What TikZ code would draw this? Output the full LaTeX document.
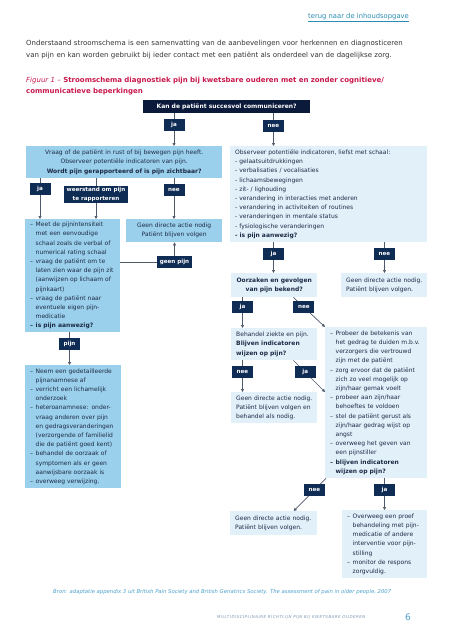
\documentclass[tikz,border=0pt]{standalone}
\usepackage{fontspec}
\setmainfont{DejaVu Sans}
\usetikzlibrary{arrows.meta,backgrounds,calc}

\definecolor{midblue}{HTML}{9BD0EC}
\definecolor{liteblue}{HTML}{E2F0FA}
\definecolor{navy}{HTML}{0F2C55}
\definecolor{qnavy}{HTML}{0B1A3B}
\definecolor{boxtext}{HTML}{1C2B45}
\definecolor{linegray}{HTML}{4E5A6A}
\definecolor{linkblue}{HTML}{2A8BB3}
\definecolor{capred}{HTML}{C8174C}
\definecolor{srcblue}{HTML}{4A9FCC}
\definecolor{footgray}{HTML}{7C97B0}
\definecolor{partext}{HTML}{333333}

\newcommand\dl[1]{\mbox{\makebox[5.5pt][l]{–}#1}}
\newcommand\il[1]{\mbox{\hspace*{5.5pt}#1}}

\tikzset{
  mid/.style={fill=midblue, text=boxtext, anchor=north west, inner xsep=5pt, inner ysep=2pt,
    font=\fontsize{6}{9.2}\selectfont},
  lite/.style={mid, fill=liteblue},
  lbl/.style={fill=navy, text=white, font=\fontsize{5.6}{9}\selectfont\bfseries,
    inner xsep=3pt, inner ysep=0pt, minimum height=12pt, minimum width=21pt},
  arr/.style={draw=linegray, line width=.7pt, -{Triangle[length=3pt,width=3pt]}},
}

\begin{document}
\begin{tikzpicture}[x=1pt,y=-1pt]
\useasboundingbox (0,0) rectangle (453,640);

% page text
\node[anchor=base west, inner sep=0, text=linkblue, font=\fontsize{6.8}{8}\selectfont] (link) at (308,18) {\underline{terug naar de inhoudsopgave}};
\node[anchor=base west, inner sep=0, text width=420pt, align=left, text=partext, font=\fontsize{7}{12}\selectfont] (intro) at (26,45)
 {Onderstaand stroomschema is een samenvatting van de aanbevelingen voor herkennen en diagnosticeren\\
  van pijn en kan worden gebruikt bij ieder contact met een patiënt als onderdeel van de dagelijkse zorg.};
\node[anchor=base west, inner sep=0, text width=420pt, align=left, text=capred, font=\fontsize{7}{11.5}\selectfont] (cap) at (26,82)
 {{\itshape Figuur 1 –} \textbf{Stroomschema diagnostiek pijn bij kwetsbare ouderen met en zonder cognitieve/}\\
  \textbf{communicatieve beperkingen}};

% boxes
\node[mid, fill=qnavy, text=white, font=\fontsize{6}{8}\selectfont\bfseries, inner sep=0pt, minimum width=167pt, minimum height=13pt] (Q) at (143,100) {Kan de patiënt succesvol communiceren?};

\node[mid, text width=186pt, minimum height=32pt, align=center] (A) at (26,146)
 {Vraag of de patiënt in rust of bij bewegen pijn heeft.\\
  Observeer potentiële indicatoren van pijn.\\
  \textbf{Wordt pijn gerapporteerd of is pijn zichtbaar?}};

\node[lite, text width=187pt, minimum height=96pt, align=left] (B) at (230,146)
 {Observeer potentiële indicatoren, liefst met schaal:\\
  - gelaatsuitdrukkingen\\
  - verbalisaties / vocalisaties\\
  - lichaamsbewegingen\\
  - zit- / lighouding\\
  - verandering in interacties met anderen\\
  - verandering in activiteiten of routines\\
  - veranderingen in mentale status\\
  - fysiologische veranderingen\\
  \textbf{- is pijn aanwezig?}};

\node[mid, text width=85pt, minimum height=113pt, align=left] (M) at (25,219)
 {\dl{Meet de pijnintensiteit}\\
  \il{met een eenvoudige}\\
  \il{schaal zoals de verbal of}\\
  \il{numerical rating schaal}\\
  \dl{vraag de patiënt om te}\\
  \il{laten zien waar de pijn zit}\\
  \il{(aanwijzen op lichaam of}\\
  \il{pijnkaart)}\\
  \dl{vraag de patiënt naar}\\
  \il{eventuele eigen pijn-}\\
  \il{medicatie}\\
  \textbf{\dl{is pijn aanwezig?}}};

\node[mid, text width=86pt, minimum height=23pt, align=center] (G1) at (126,219)
 {\mbox{Geen directe actie nodig}\\\mbox{Patiënt blijven volgen}};

\node[mid, text width=86pt, minimum height=123pt, align=left] (N) at (25,365)
 {\dl{Neem een gedetailleerde}\\
  \il{pijnanamnese af}\\
  \dl{verricht een lichamelijk}\\
  \il{onderzoek}\\
  \dl{heteroanamnese: onder-}\\
  \il{vraag anderen over pijn}\\
  \il{en gedragsveranderingen}\\
  \il{(verzorgende of familielid}\\
  \il{die de patiënt goed kent)}\\
  \dl{behandel de oorzaak of}\\
  \il{symptomen als er geen}\\
  \il{aanwijsbare oorzaak is}\\
  \dl{overweeg verwijzing.}};

\node[lite, text width=76pt, minimum height=24pt, align=center, font=\fontsize{6}{9.2}\selectfont\bfseries] (O) at (231,273)
 {\mbox{Oorzaken en gevolgen}\\\mbox{van pijn bekend?}};
\node[lite, text width=76pt, minimum height=24pt, align=left] (G2) at (341,273)
 {\mbox{Geen directe actie nodig.}\\\mbox{Patiënt blijven volgen.}};

\node[lite, text width=76pt, minimum height=32pt, align=left] (BH) at (231,328)
 {\mbox{Behandel ziekte en pijn.}\\\mbox{\textbf{Blijven indicatoren}}\\\mbox{\textbf{wijzen op pijn?}}};

\node[lite, text width=92pt, minimum height=151pt, align=left] (P) at (325,327)
 {\dl{Probeer de betekenis van}\\
  \il{het gedrag te duiden m.b.v.}\\
  \il{verzorgers die vertrouwd}\\
  \il{zijn met de patiënt}\\
  \dl{zorg ervoor dat de patiënt}\\
  \il{zich zo veel mogelijk op}\\
  \il{zijn/haar gemak voelt}\\
  \dl{probeer aan zijn/haar}\\
  \il{behoeftes te voldoen}\\
  \dl{stel de patiënt gerust als}\\
  \il{zijn/haar gedrag wijst op}\\
  \il{angst}\\
  \dl{overweeg het geven van}\\
  \il{een pijnstiller}\\
  \textbf{\dl{blijven indicatoren}}\\
  \textbf{\il{wijzen op pijn?}}};

\node[lite, text width=76pt, minimum height=31pt, align=left] (G3) at (231,392)
 {\mbox{Geen directe actie nodig.}\\\mbox{Patiënt blijven volgen en}\\\mbox{behandel als nodig.}};

\node[lite, text width=77pt, minimum height=24pt, align=left] (G4) at (230,511)
 {\mbox{Geen directe actie nodig.}\\\mbox{Patiënt blijven volgen.}};

\node[lite, text width=75pt, minimum height=68pt, align=left] (OV) at (342,510)
 {\dl{Overweeg een proef}\\
  \il{behandeling met pijn-}\\
  \il{medicatie of andere}\\
  \il{interventie voor pijn-}\\
  \il{stilling}\\
  \dl{monitor de respons}\\
  \il{zorgvuldig.}};

% labels
\node[lbl] (ja1) at (174,125) {ja};
\node[lbl] (nee1) at (273.5,126) {nee};
\node[lbl] (ja2) at (40,189) {ja};
\node[lbl, align=center, inner ysep=1.5pt] (weer) at (96,194.5) {weerstand om pijn\\te rapporteren};
\node[lbl] (nee2) at (174,190) {nee};
\node[lbl] (gp) at (174.5,262) {geen pijn};
\node[lbl] (pijn) at (69.5,344) {pijn};
\node[lbl] (ja3) at (273.5,254) {ja};
\node[lbl] (nee3) at (384.5,254) {nee};
\node[lbl] (ja4) at (242.5,307) {ja};
\node[lbl] (nee5) at (242.5,372) {nee};
\node[lbl] (ja6) at (384.5,490) {ja};

% connectors
\begin{scope}[on background layer]
\draw[arr] (Q.south -| ja1) -- (A.north -| ja1);
\draw[arr] (Q.south -| nee1) -- (B.north -| nee1);
\draw[arr] (A.south -| ja2) -- (M.north -| ja2);
\draw[arr] (A.south -| weer) -- (M.north -| weer);
\draw[arr] (A.south -| nee2) -- (G1.north -| nee2);
\draw[arr] (M.east |- gp) -- (gp.center) -- (G1.south -| gp);
\draw[arr] (M.south -| pijn) -- (N.north -| pijn);
\draw[arr] (B.south -| ja3) -- (O.north -| ja3);
\draw[arr] (B.south -| nee3) -- (G2.north -| nee3);
\draw[arr] (O.south -| ja4) -- (BH.north -| ja4);
\draw[arr] ([xshift=-24pt]O.south east) -- (P.north west) node[lbl, pos=.33] (nee4) {nee};
\draw[arr] (BH.south -| nee5) -- (G3.north -| nee5);
\draw[arr] ([xshift=-24pt]BH.south east) -- ([yshift=-65pt]P.north west) node[lbl, pos=.375] (ja5) {ja};
\draw[arr] ([xshift=1pt]P.south west) -- ([xshift=20pt]G4.north) node[lbl, pos=.36] (nee6) {nee};
\draw[arr] (P.south -| ja6) -- (OV.north -| ja6);
\end{scope}

% source and footer
\node[anchor=base west, inner sep=0, text=srcblue, font=\fontsize{5.3}{6}\selectfont\itshape] (src) at (53,593)
 {Bron: adaptatie appendix 3 uit British Pain Society and British Geriatrics Society. The assessment of pain in older people, 2007};
\node[anchor=base west, inner sep=0, text=footgray, font=\fontsize{4}{5}\selectfont\itshape\addfontfeatures{LetterSpace=12}] (foot) at (217,618)
 {MULTIDISCIPLINAIRE RICHTLIJN PIJN BIJ KWETSBARE OUDEREN};
\node[anchor=base west, inner sep=0, text=srcblue, font=\fontsize{9}{10}\selectfont] (pg) at (405,620) {6};
\end{tikzpicture}
\end{document}
